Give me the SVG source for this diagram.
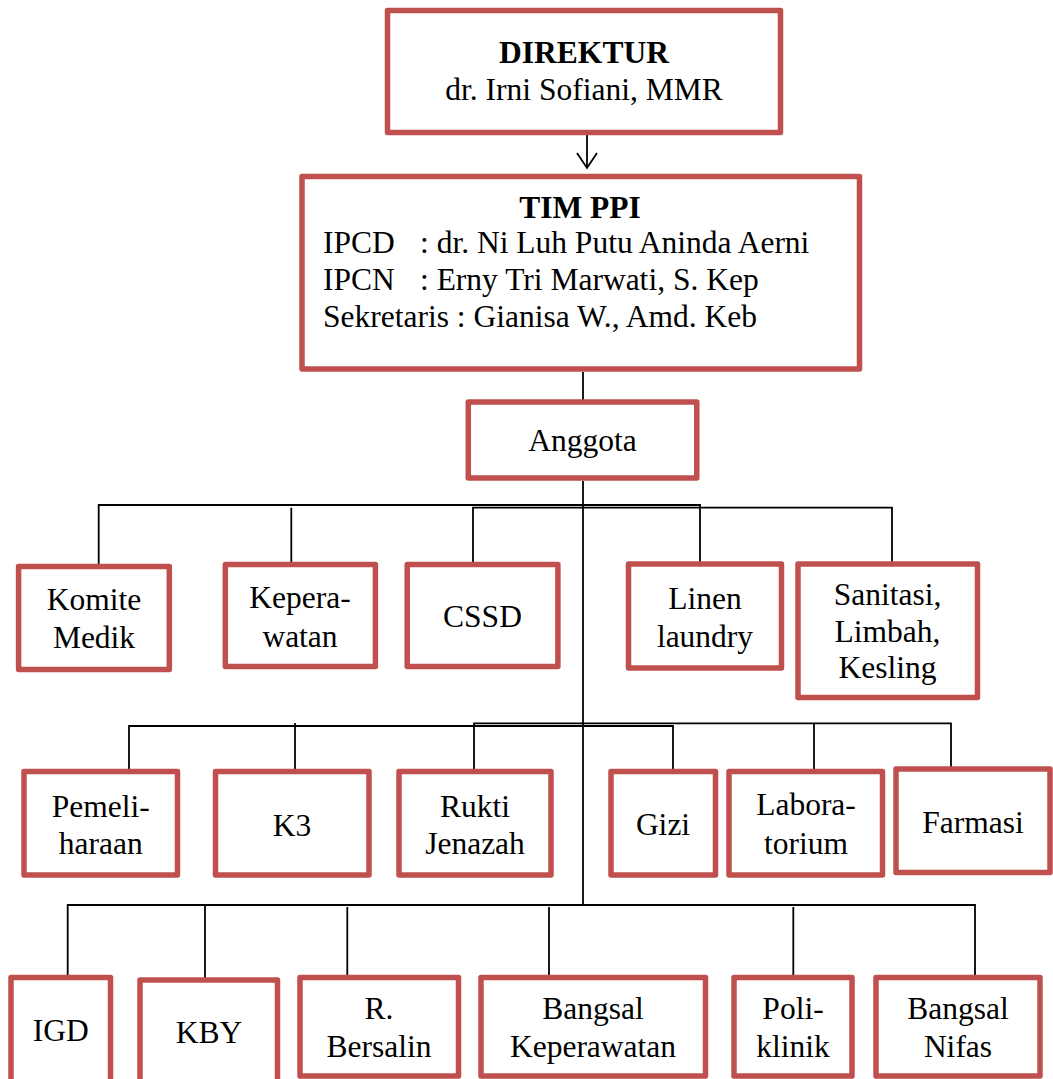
<svg xmlns="http://www.w3.org/2000/svg" width="1053" height="1079" viewBox="0 0 1053 1079">
<style>
.box{fill:#fff;stroke:#C0504D;stroke-width:5.5;stroke-linejoin:round}
.ln{fill:none;stroke:#000;stroke-width:1.8}
text{font-family:"Liberation Serif","Times New Roman",serif;font-size:31.5px;fill:#000;text-anchor:middle}
.b{font-weight:bold}
.l{text-anchor:start}
</style>
<defs>
<marker id="arr" viewBox="0 0 20 22" refX="17" refY="11" markerWidth="20" markerHeight="22" markerUnits="userSpaceOnUse" orient="auto">
<path d="M2,1 L17,11 L2,21" fill="none" stroke="#000" stroke-width="1.8"/>
</marker>
</defs>
<rect width="1053" height="1079" fill="#fff"/>
<g id="connectors">
<line class="ln" x1="587" y1="135" x2="587" y2="168" marker-end="url(#arr)"/>
<line class="ln" x1="583" y1="372" x2="583" y2="400"/>
<line class="ln" x1="583" y1="481" x2="583" y2="905"/>
<polyline class="ln" points="98.7,565 98.7,505 700,505 700,562"/>
<line class="ln" x1="291.3" y1="507.7" x2="291.3" y2="562"/>
<polyline class="ln" points="473,562 473,507.7 892,507.7 892,562"/>
<polyline class="ln" points="129,769 129,726 673,726 673,769"/>
<line class="ln" x1="295" y1="723" x2="295" y2="769"/>
<polyline class="ln" points="474,769 474,723.3 951,723.3 951,767"/>
<line class="ln" x1="814" y1="723.3" x2="814" y2="769"/>
<polyline class="ln" points="67.7,975 67.7,905 975,905 975,975"/>
<line class="ln" x1="205" y1="905" x2="205" y2="978"/>
<line class="ln" x1="347.3" y1="907" x2="347.3" y2="975"/>
<line class="ln" x1="549" y1="907" x2="549" y2="975"/>
<line class="ln" x1="793.3" y1="907" x2="793.3" y2="975"/>
</g>
<g id="direktur">
<rect class="box" x="387.5" y="10.5" width="393" height="122"/>
<text class="b" x="584" y="63">DIREKTUR</text>
<text x="584" y="100">dr. Irni Sofiani, MMR</text>
</g>
<g id="tim-ppi">
<rect class="box" x="302" y="176.5" width="557.5" height="192.5"/>
<text class="b" x="580" y="218">TIM PPI</text>
<text class="l" x="323" y="253">IPCD</text>
<text class="l" x="420" y="253">: dr. Ni Luh Putu Aninda Aerni</text>
<text class="l" x="323" y="290">IPCN</text>
<text class="l" x="420" y="290">: Erny Tri Marwati, S. Kep</text>
<text class="l" x="323" y="327">Sekretaris : Gianisa W., Amd. Keb</text>
</g>
<g id="anggota">
<rect class="box" x="468.3" y="402" width="228.5" height="76"/>
<text x="582.5" y="451">Anggota</text>
</g>
<g id="komite-medik">
<rect class="box" x="18.6" y="566.5" width="150.7" height="103"/>
<text x="94" y="610">Komite</text>
<text x="94" y="648">Medik</text>
</g>
<g id="keperawatan">
<rect class="box" x="225.3" y="564.5" width="150.1" height="102"/>
<text x="300" y="608">Kepera-</text>
<text x="300" y="647">watan</text>
</g>
<g id="cssd">
<rect class="box" x="407.2" y="564.5" width="150.7" height="102"/>
<text x="482.5" y="627">CSSD</text>
</g>
<g id="linen">
<rect class="box" x="628.5" y="564" width="153" height="104"/>
<text x="705" y="609">Linen</text>
<text x="705" y="647">laundry</text>
</g>
<g id="sanitasi">
<rect class="box" x="798" y="564" width="179.5" height="133.5"/>
<text x="887.5" y="605">Sanitasi,</text>
<text x="887.5" y="642">Limbah,</text>
<text x="887.5" y="678">Kesling</text>
</g>
<g id="pemeliharaan">
<rect class="box" x="24" y="771.5" width="153.5" height="103.5"/>
<text x="100.75" y="817">Pemeli-</text>
<text x="100.75" y="854">haraan</text>
</g>
<g id="k3">
<rect class="box" x="215.5" y="771.5" width="153.5" height="103.5"/>
<text x="292" y="836">K3</text>
</g>
<g id="rukti-jenazah">
<rect class="box" x="399" y="771.5" width="152" height="103.5"/>
<text x="475" y="817">Rukti</text>
<text x="475" y="854">Jenazah</text>
</g>
<g id="gizi">
<rect class="box" x="611" y="771.5" width="104.5" height="103.5"/>
<text x="663" y="835">Gizi</text>
</g>
<g id="laboratorium">
<rect class="box" x="729" y="771.5" width="153.5" height="103.5"/>
<text x="806" y="815">Labora-</text>
<text x="806" y="854">torium</text>
</g>
<g id="farmasi">
<rect class="box" x="896" y="769" width="154" height="103.5"/>
<text x="973" y="833">Farmasi</text>
</g>
<g id="igd">
<rect class="box" x="11" y="977.5" width="99.5" height="120"/>
<text x="60.75" y="1041">IGD</text>
</g>
<g id="kby">
<rect class="box" x="140" y="980" width="137.5" height="120"/>
<text x="209" y="1043">KBY</text>
</g>
<g id="r-bersalin">
<rect class="box" x="300" y="977.5" width="158.5" height="98.5"/>
<text x="379" y="1019">R.</text>
<text x="379" y="1057">Bersalin</text>
</g>
<g id="bangsal-keperawatan">
<rect class="box" x="481" y="977.5" width="224.5" height="98.5"/>
<text x="593" y="1019">Bangsal</text>
<text x="593" y="1057">Keperawatan</text>
</g>
<g id="poliklinik">
<rect class="box" x="734" y="977.5" width="118" height="98.5"/>
<text x="793" y="1019">Poli-</text>
<text x="793" y="1057">klinik</text>
</g>
<g id="bangsal-nifas">
<rect class="box" x="876" y="977.5" width="164" height="98.5"/>
<text x="958" y="1019">Bangsal</text>
<text x="958" y="1057">Nifas</text>
</g>
</svg>
